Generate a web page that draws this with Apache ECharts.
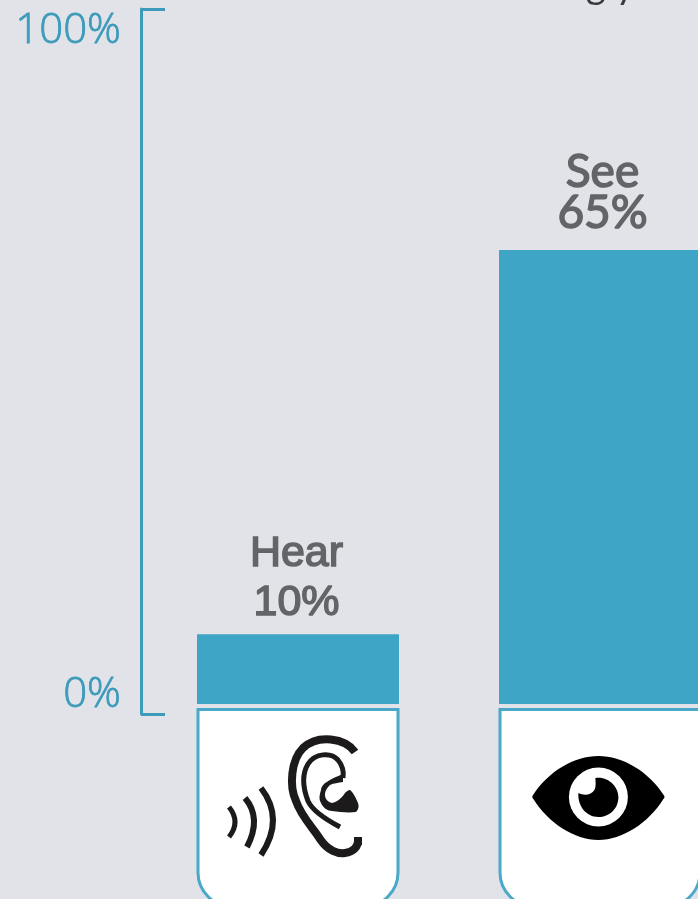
<!DOCTYPE html>
<html>
<head>
<meta charset="utf-8">
<style>html,body{margin:0;padding:0;background:#e2e3e9;overflow:hidden}#c{width:698px;height:899px}</style>
<script src="https://cdn.jsdelivr.net/npm/echarts@6/dist/echarts.min.js"></script>
</head>
<body>
<div id="c"></div>
<script>
const senses = ['Hear', 'See'];
const shares = [10, 65];
const scaleTicks = [0, 100];

const BLUE = '#3fa5c6';
const AXIS_BLUE = '#3c9abb';
const GREY = '#636468';
const INK = '#1c1a1a';

// Per-sense caption styling.
const captionStyles = {
  Hear: { fontFamily: 'Liberation Sans', fontSize: 43, lineHeight: 49, offset: [-1.5, 1] },
  See: { fontFamily: 'Lato', fontSize: 46, lineHeight: 41, offset: [2.5, -8] }
};

// Icons are drawn around a point inside each card.
function earIcon(cx, cy) {
  const stroke = (d, w) => ({
    type: 'path',
    x: cx, y: cy,
    shape: { pathData: d },
    style: { fill: 'none', stroke: INK, lineWidth: w, lineCap: 'butt' }
  });
  return [
    // sound waves
    stroke('M-69 11 Q-57 26 -69 41', 5),
    stroke('M-53 2 Q-36 22 -51 51', 6),
    stroke('M-37 -8 Q-13 23 -37 59', 6),
    // outer helix
    stroke('M57 -44 C47 -58 20 -62 5 -48 C-7 -36 -9 -10 -2 5 C3 20 15 32 22 43 C30 55 40 58 47 57 C56 56 60 50 60 45 L64 45', 8),
    // inner fold
    stroke('M42 31 C25 22 14 14 10 5 C5 -8 4 -22 10 -32 C17 -43 33 -44 40 -36 C45 -30 46 -25 45 -18', 5),
    // tragus
    {
      type: 'path', x: cx, y: cy,
      shape: { pathData: 'M45 -22 C32 -17 23 -12 23 -6 C21 0 21 4 23 7 C25 12 30 15 34 15 C42 16 50 17 58 16 C61 13 61 10 60 7 C58 2 55 -4 52 -6 C50 -6 48 -4 47 -3 C44 2 39 6 34 7 C30 6 27 3 27 -1 C27 -6 30 -9 32 -11 C36 -13 40 -13 45 -14 Z' },
      style: { fill: INK }
    }
  ];
}

function eyeIcon(cx, cy) {
  const x = cx - 1.6, y = cy + 1;
  return [
    {
      type: 'path', x, y,
      shape: { pathData: 'M-66 -1 C-50 -26 -24 -41 0 -41 C24 -41 50 -26 66 -1 C66 1 66 1 65 2 C50 26 24 43 0 43 C-24 43 -50 26 -65 2 C-66 1 -66 1 -66 -1 Z' },
      style: { fill: '#000' }
    },
    { type: 'circle', shape: { cx: x, cy: y, r: 29.5 }, style: { fill: '#fff' } },
    {
      type: 'path', x, y,
      shape: { pathData: 'M-20 -4 C-14 -1 -7 -2 -4 -7 C-2 -11 -3 -15 -3 -19 C10 -21 20 -10 20 0 C20 12 11 20 0 20 C-12 20 -21 9 -20 -4 Z' },
      style: { fill: '#000' }
    }
  ];
}

const icons = { Hear: earIcon, See: eyeIcon };

// White tab under each bar holding the sense's icon.
function renderCard(params, api) {
  const idx = api.value(0);
  const base = api.coord([idx, 0]);
  const half = 100;
  const left = base[0] - half, right = base[0] + half;
  const top = base[1] + 5.5;
  const bottom = top + 197;
  const r = 34;
  const k = r * 0.45;
  const d = `M${left} ${top} L${right} ${top} L${right} ${bottom - r} C${right} ${bottom - k} ${right - k} ${bottom} ${right - r} ${bottom} L${left + r} ${bottom} C${left + k} ${bottom} ${left} ${bottom - k} ${left} ${bottom - r} Z`;
  const name = senses[idx];
  return {
    type: 'group',
    children: [
      { type: 'path', shape: { pathData: d }, style: { fill: '#fff', stroke: '#4aa8c9', lineWidth: 3 } },
      ...icons[name](base[0], base[1] + 92)
    ]
  };
}

const chart = echarts.init(document.getElementById('c'), null, { renderer: 'canvas' });
chart.setOption({
  animation: false,
  backgroundColor: '#e2e3e9',
  // Heading that runs off the top edge.
  title: {
    text: 'g y', left: 581, top: -38,
    textStyle: { fontFamily: 'Lato', fontWeight: 'normal', fontSize: 38, color: '#3a3a3c' }
  },
  grid: [
    { left: 147, top: 5.5, width: 604, height: 698.5, outerBoundsMode: 'none' },
    { left: 141, top: 9, width: 500, height: 705, outerBoundsMode: 'none' }
  ],
  xAxis: [
    { type: 'category', gridIndex: 0, data: senses, show: false },
    { type: 'value', gridIndex: 1, show: false }
  ],
  yAxis: [
    { type: 'value', gridIndex: 0, min: 0, max: 100, show: false },
    {
      type: 'value', gridIndex: 1, min: 0, max: 100, interval: 100,
      axisLine: { show: true, onZero: false, lineStyle: { color: AXIS_BLUE, width: 3 } },
      axisTick: { show: true, inside: true, length: 24, lineStyle: { color: AXIS_BLUE, width: 3 } },
      splitLine: { show: false },
      axisLabel: {
        show: true, margin: 20,
        color: AXIS_BLUE,
        fontFamily: 'Open Sans', fontWeight: 300, fontSize: 42,
        lineHeight: 38,
        textBorderColor: AXIS_BLUE, textBorderWidth: 0.8,
        padding: [3, 0, 0, 0],
        formatter: v => v + '%',
        customValues: scaleTicks,
        verticalAlignMinLabel: 'bottom',
        verticalAlignMaxLabel: 'top'
      }
    }
  ],
  series: [
    {
      type: 'bar',
      xAxisIndex: 0, yAxisIndex: 0,
      barWidth: 202,
      itemStyle: { color: BLUE },
      data: shares.map((v, i) => ({
        value: v,
        label: captionStyles[senses[i]]
      })),
      label: {
        show: true, position: 'top', distance: 8,
        color: GREY,
        fontWeight: 'normal',
        textBorderColor: GREY, textBorderWidth: 1.5,
        align: 'center',
        formatter: p => p.name + '\n' + p.value + '%'
      }
    },
    {
      type: 'custom',
      xAxisIndex: 0, yAxisIndex: 0,
      clip: false,
      renderItem: renderCard,
      data: senses.map((_, i) => [i])
    }
  ]
});
</script>
</body>
</html>
